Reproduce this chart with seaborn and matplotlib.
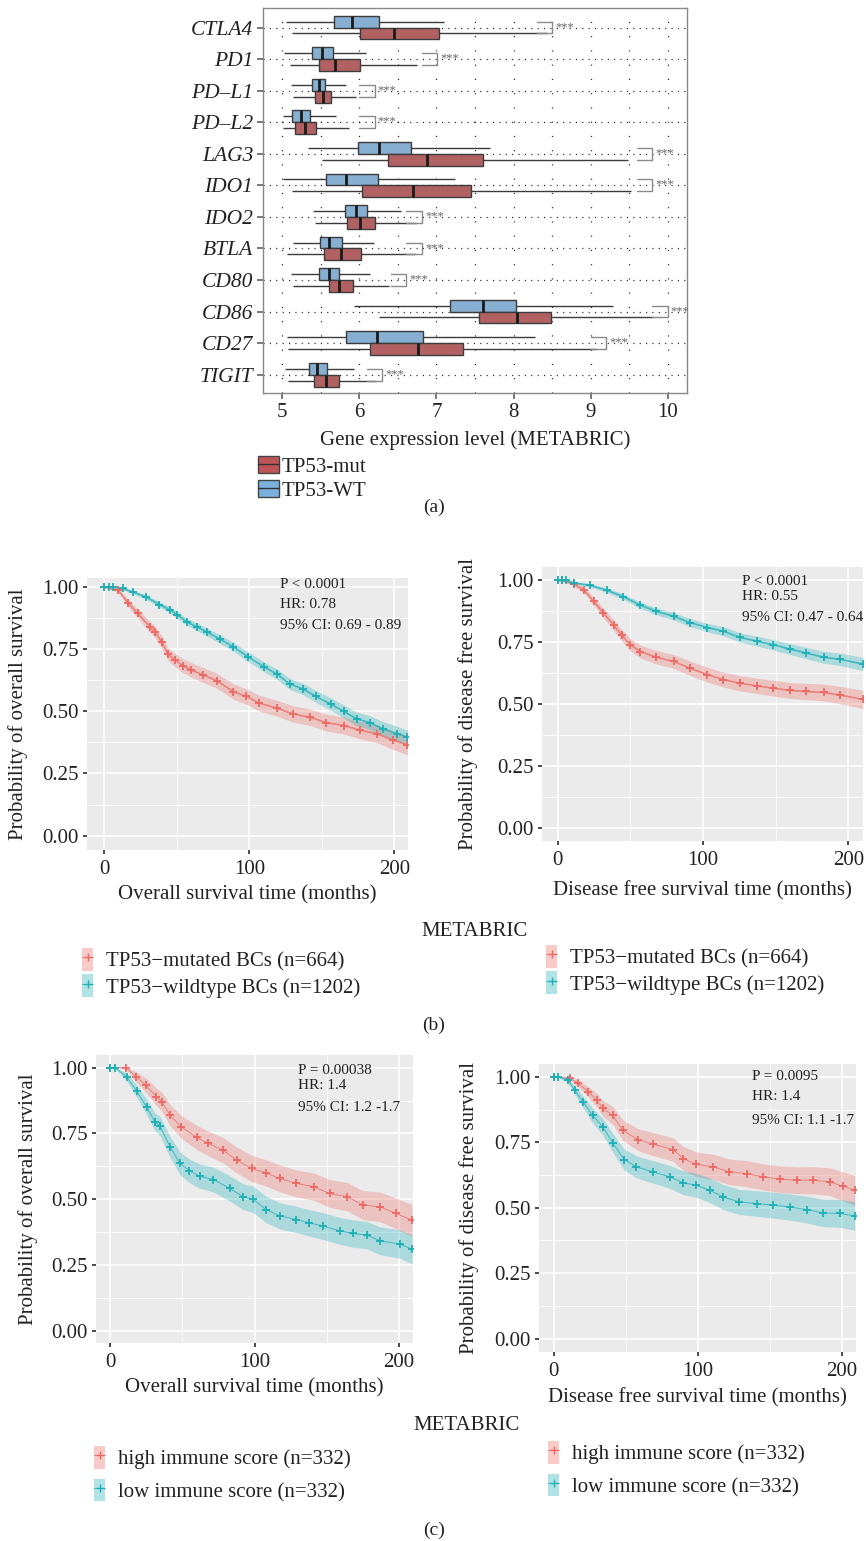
import numpy as np
import pandas as pd
import matplotlib
matplotlib.use("Agg")
import matplotlib.pyplot as plt
import seaborn as sns
from matplotlib.patches import Patch
from matplotlib.lines import Line2D
from matplotlib.ticker import MultipleLocator

# ---------------- data: panel (a) box summaries ----------------
genes = ["CTLA4", "PD1", "PD-L1", "PD-L2", "LAG3", "IDO1", "IDO2", "BTLA", "CD80", "CD86", "CD27", "TIGIT"]
gene_labels = ["CTLA4", "PD1", "PD–L1", "PD–L2", "LAG3", "IDO1", "IDO2", "BTLA", "CD80", "CD86", "CD27", "TIGIT"]
wt_lo  = [5.05, 5.02, 5.11, 5.01, 5.33, 5.01, 5.40, 5.14, 5.11, 5.93, 5.06, 5.04]
wt_q1  = [5.67, 5.38, 5.38, 5.13, 5.98, 5.57, 5.81, 5.49, 5.48, 7.17, 5.83, 5.35]
wt_med = [5.90, 5.51, 5.47, 5.24, 6.26, 5.83, 5.95, 5.60, 5.61, 7.60, 6.23, 5.45]
wt_q3  = [6.25, 5.66, 5.55, 5.36, 6.67, 6.24, 6.10, 5.77, 5.74, 8.03, 6.82, 5.58]
wt_hi  = [7.10, 6.08, 5.83, 5.70, 7.70, 7.24, 6.54, 6.19, 6.14, 9.29, 8.28, 5.93]
mut_lo  = [5.12, 5.10, 5.14, 5.01, 5.51, 5.12, 5.42, 5.06, 5.14, 6.26, 5.07, 5.07]
mut_q1  = [6.01, 5.47, 5.42, 5.16, 6.37, 6.04, 5.84, 5.54, 5.60, 7.55, 6.14, 5.41]
mut_med = [6.45, 5.68, 5.53, 5.29, 6.88, 6.69, 6.01, 5.76, 5.74, 8.04, 6.76, 5.57]
mut_q3  = [7.03, 6.01, 5.63, 5.44, 7.61, 7.45, 6.20, 6.02, 5.92, 8.48, 7.35, 5.74]
mut_hi  = [8.43, 6.75, 5.96, 5.87, 9.48, 9.52, 6.74, 6.72, 6.39, 9.81, 9.07, 6.22]
sig_x   = [8.50, 7.01, 6.20, 6.20, 9.80, 9.80, 6.81, 6.81, 6.61, 10.0, 9.20, 6.30]
sig_text = "***"

# ---------------- data: panel (b) TP53 survival ----------------
os_wt_t = [0, 3, 6, 12.6, 20, 29, 38, 45, 50, 57, 64, 70.6, 80, 89, 99, 110, 119, 128, 137, 146, 156, 165, 174, 183, 192, 202, 209]
os_wt_s = [1.0, 1.0, 1.0, 0.995, 0.98, 0.96, 0.93, 0.91, 0.89, 0.86, 0.84, 0.82, 0.79, 0.76, 0.72, 0.68, 0.65, 0.61, 0.59, 0.56, 0.53, 0.50, 0.47, 0.455, 0.43, 0.41, 0.395]
os_wt_hw = [0, 0.003, 0.004, 0.005, 0.007, 0.009, 0.011, 0.012, 0.013, 0.014, 0.015, 0.016, 0.017, 0.018, 0.019, 0.02, 0.021, 0.022, 0.023, 0.024, 0.025, 0.026, 0.027, 0.028, 0.029, 0.03, 0.03]
os_mut_t = [0, 9.7, 16.6, 23, 31.5, 35, 39.5, 44, 48.7, 54.5, 60, 68, 77.5, 89, 98, 107, 119, 130, 142, 153, 165, 176, 188, 199, 209]
os_mut_s = [1.0, 0.987, 0.935, 0.895, 0.84, 0.82, 0.78, 0.73, 0.707, 0.683, 0.667, 0.647, 0.624, 0.58, 0.56, 0.533, 0.513, 0.49, 0.476, 0.455, 0.443, 0.425, 0.41, 0.385, 0.365]
os_mut_hw = [0, 0.008, 0.015, 0.018, 0.022, 0.023, 0.025, 0.026, 0.027, 0.028, 0.029, 0.03, 0.03, 0.031, 0.031, 0.032, 0.032, 0.033, 0.033, 0.034, 0.034, 0.035, 0.036, 0.038, 0.04]

dfs_wt_t = [0, 3, 6, 11, 22.5, 34, 45, 57, 68, 80, 91, 103, 114, 125.5, 137, 148.5, 160, 171, 183, 194, 210]
dfs_wt_s = [1.0, 1.0, 1.0, 0.99, 0.98, 0.96, 0.935, 0.90, 0.875, 0.855, 0.83, 0.81, 0.795, 0.77, 0.755, 0.74, 0.723, 0.707, 0.69, 0.682, 0.663]
dfs_wt_hw = [0, 0.002, 0.003, 0.005, 0.007, 0.009, 0.011, 0.013, 0.014, 0.015, 0.016, 0.017, 0.018, 0.019, 0.02, 0.021, 0.022, 0.023, 0.024, 0.025, 0.027]
dfs_mut_t = [0, 3, 11, 18, 25, 31.6, 38.5, 44, 50, 57, 68, 80, 91, 103, 114, 125.5, 137, 148.5, 160, 171, 183, 194, 210]
dfs_mut_s = [1.0, 1.0, 0.985, 0.962, 0.915, 0.868, 0.82, 0.78, 0.74, 0.713, 0.69, 0.673, 0.646, 0.62, 0.60, 0.585, 0.575, 0.565, 0.556, 0.552, 0.548, 0.538, 0.52]
dfs_mut_hw = [0, 0.003, 0.008, 0.012, 0.016, 0.019, 0.021, 0.023, 0.025, 0.026, 0.027, 0.028, 0.029, 0.03, 0.03, 0.031, 0.031, 0.032, 0.032, 0.033, 0.034, 0.035, 0.037]

# ---------------- data: panel (c) immune score survival ----------------
osi_hi_t = [0, 11, 18, 24.7, 32, 36, 41.5, 49, 60, 68, 78, 87.7, 98, 108, 117.6, 129, 141, 152, 164, 175, 187, 198, 209]
osi_hi_s = [1.0, 1.0, 0.965, 0.934, 0.89, 0.87, 0.82, 0.776, 0.735, 0.712, 0.687, 0.649, 0.617, 0.60, 0.579, 0.56, 0.548, 0.522, 0.51, 0.478, 0.471, 0.446, 0.42]
osi_hi_hw = [0, 0.005, 0.02, 0.027, 0.033, 0.036, 0.04, 0.043, 0.046, 0.047, 0.048, 0.049, 0.05, 0.05, 0.051, 0.051, 0.052, 0.053, 0.054, 0.055, 0.056, 0.058, 0.06]
osi_lo_t = [0, 3.5, 11.5, 18.5, 25.4, 31, 34.6, 41.5, 48.4, 55, 62, 71.5, 83, 92, 99, 108, 117.6, 129, 138, 147.6, 159, 168, 177.6, 187, 200.7, 209]
osi_lo_s = [1.0, 1.0, 0.965, 0.91, 0.85, 0.795, 0.778, 0.70, 0.636, 0.608, 0.588, 0.575, 0.541, 0.51, 0.50, 0.461, 0.437, 0.423, 0.41, 0.398, 0.38, 0.37, 0.364, 0.342, 0.33, 0.31]
osi_lo_hw = [0, 0.003, 0.015, 0.023, 0.03, 0.034, 0.036, 0.04, 0.043, 0.045, 0.046, 0.047, 0.048, 0.049, 0.05, 0.05, 0.05, 0.05, 0.05, 0.051, 0.051, 0.052, 0.052, 0.053, 0.054, 0.055]

dfsi_hi_t = [0, 11, 17, 24, 30, 34, 41, 48, 58.6, 69, 83, 90, 99, 111, 122, 134, 145.5, 157, 169, 180, 192, 201, 209]
dfsi_hi_s = [1.0, 0.997, 0.975, 0.943, 0.91, 0.88, 0.853, 0.796, 0.76, 0.743, 0.722, 0.688, 0.666, 0.656, 0.637, 0.63, 0.618, 0.609, 0.605, 0.605, 0.599, 0.582, 0.567]
dfsi_hi_hw = [0, 0.005, 0.013, 0.02, 0.026, 0.03, 0.034, 0.039, 0.042, 0.044, 0.045, 0.046, 0.047, 0.048, 0.049, 0.05, 0.05, 0.051, 0.051, 0.052, 0.053, 0.055, 0.057]
dfsi_lo_t = [0, 3, 10, 14.6, 20.4, 27, 34, 41, 49, 57.5, 69, 80.6, 90, 99, 108.5, 117.7, 129, 141, 152.5, 164, 175.7, 187, 199, 209]
dfsi_lo_s = [1.0, 1.0, 0.987, 0.949, 0.904, 0.853, 0.81, 0.748, 0.684, 0.656, 0.637, 0.618, 0.595, 0.586, 0.567, 0.541, 0.522, 0.516, 0.51, 0.503, 0.493, 0.48, 0.478, 0.469]
dfsi_lo_hw = [0, 0.003, 0.01, 0.016, 0.022, 0.028, 0.032, 0.036, 0.04, 0.042, 0.043, 0.044, 0.045, 0.046, 0.047, 0.048, 0.048, 0.049, 0.05, 0.05, 0.051, 0.052, 0.053, 0.055]

tp53_labels = ["TP53−mutated BCs (n=664)", "TP53−wildtype BCs (n=1202)"]
imm_labels = ["high immune score (n=332)", "low immune score (n=332)"]
stats_b_os = ["P < 0.0001", "HR: 0.78", "95% CI: 0.69 - 0.89"]
stats_b_dfs = ["P < 0.0001", "HR: 0.55", "95% CI: 0.47 - 0.64"]
stats_c_os = ["P = 0.00038", "HR: 1.4", "95% CI: 1.2 -1.7"]
stats_c_dfs = ["P = 0.0095", "HR: 1.4", "95% CI: 1.1 -1.7"]

# ---------------- style ----------------
sns.set_theme(style="white")
plt.rcParams["font.family"] = ["Liberation Serif", "DejaVu Serif"]
TXT = "#222222"
RED_KM = "#EC6A63"
TEAL_KM = "#1DB0B6"
BOX_RED = "#BF5456"
BOX_BLUE = "#7AB0DD"

W, H = 866, 1541
fig = plt.figure(figsize=(W / 100, H / 100), dpi=100)


def ax_at(l, t, r, b):
    return fig.add_axes([l / W, 1 - b / H, (r - l) / W, (b - t) / H])


# ---------------- panel (a) ----------------
rows = []
for i, g in enumerate(genes):
    for v in (wt_lo[i], wt_q1[i], wt_med[i], wt_q3[i], wt_hi[i]):
        rows.append((g, "TP53-WT", v))
    for v in (mut_lo[i], mut_q1[i], mut_med[i], mut_q3[i], mut_hi[i]):
        rows.append((g, "TP53-mut", v))
box_df = pd.DataFrame(rows, columns=["gene", "group", "value"])

axA = ax_at(263, 8, 687, 393)
sns.boxplot(data=box_df, x="value", y="gene", hue="group", order=genes,
            hue_order=["TP53-WT", "TP53-mut"],
            palette={"TP53-WT": BOX_BLUE, "TP53-mut": BOX_RED},
            whis=(0, 100), showfliers=False, showcaps=False, width=0.75, gap=0,
            linecolor="#3c3c3c", linewidth=1.0, legend=False,
            medianprops={"color": "#1a1a1a", "linewidth": 2.0}, ax=axA)
axA.set_xlim(4.75, 10.25)
axA.set_ylim(11.58, -0.62)
axA.set_xticks([5, 6, 7, 8, 9, 10])
axA.xaxis.set_minor_locator(MultipleLocator(0.5))
axA.set_yticks(range(len(genes)))
axA.set_yticklabels(gene_labels, fontstyle="italic", fontsize=15.5, color=TXT)
axA.tick_params(axis="x", which="major", labelsize=15, labelcolor=TXT, length=4, color="#666", bottom=True, pad=3)
axA.tick_params(axis="x", which="minor", length=0)
axA.tick_params(axis="y", length=4, color="#666", left=True, pad=3)
axA.grid(True, axis="x", which="both", color="#222", linewidth=0.9, linestyle=(0, (0.9, 10.5)))
axA.grid(True, axis="y", which="major", color="#222", linewidth=0.9, linestyle=(0, (0.9, 4.2)))
axA.set_axisbelow(True)
for s in axA.spines.values():
    s.set_color("#888888")
    s.set_linewidth(1.0)
axA.set_ylabel("")
axA.set_xlabel("Gene expression level (METABRIC)", fontsize=15, color=TXT, labelpad=6)
for i in range(len(genes)):
    y1, y2 = i - 0.1875, i + 0.1875
    x1 = sig_x[i]
    axA.plot([x1 - 0.2, x1, x1, x1 - 0.2], [y1, y1, y2, y2], color="#8a8a8a", lw=1.0, zorder=3)
    axA.text(x1 + 0.04, i - 0.02, sig_text, fontsize=9, color="#666", ha="left", va="center")

legA = fig.legend(handles=[(Patch(facecolor=BOX_RED, edgecolor="#444"), Line2D([], [], color="#333", lw=1)),
                           (Patch(facecolor=BOX_BLUE, edgecolor="#444"), Line2D([], [], color="#333", lw=1))],
                  labels=["TP53-mut", "TP53-WT"], loc="upper left",
                  bbox_to_anchor=(258 / W, 1 - 456 / H), frameon=False, fontsize=15,
                  handlelength=1.0, handleheight=0.9, handletextpad=0.15, labelspacing=0.15,
                  borderpad=0, borderaxespad=0)
for t in legA.get_texts():
    t.set_color(TXT)


# ---------------- KM helper ----------------
def km_panel(ax, curves, xlim, ylim, ylabel, xlabel, stats, stat_xy, ylab_x, line_w, xpad):
    ax.set_facecolor("#EBEBEB")
    for t, s, hw, col in curves:
        t = np.asarray(t, float)
        s = np.asarray(s, float)
        hw = np.asarray(hw, float)
        ax.fill_between(t, s - hw, np.minimum(s + hw, 1.0), color=col, alpha=0.3, lw=0, zorder=2)
        sns.lineplot(x=t, y=s, color=col, lw=line_w, alpha=0.75, errorbar=None, ax=ax, zorder=3)
        sns.scatterplot(x=t, y=s, color=col, marker="+", s=40, linewidth=1.3, ax=ax, zorder=4)
    ax.set_xlim(*xlim)
    ax.set_ylim(*ylim)
    ax.set_xticks([0, 100, 200])
    ax.xaxis.set_minor_locator(MultipleLocator(50))
    ax.set_yticks([0, 0.25, 0.5, 0.75, 1.0])
    ax.set_yticklabels(["0.00", "0.25", "0.50", "0.75", "1.00"])
    ax.yaxis.set_minor_locator(MultipleLocator(0.125))
    ax.grid(True, which="major", color="white", lw=1.1)
    ax.grid(True, which="minor", color="white", lw=0.55)
    ax.set_axisbelow(True)
    for sp in ax.spines.values():
        sp.set_visible(False)
    ax.tick_params(which="major", length=3, color="#333", labelsize=15, labelcolor=TXT,
                   left=True, bottom=True, pad=3)
    ax.tick_params(axis="x", which="major", pad=4)
    ax.tick_params(which="minor", length=0)
    ax.set_ylabel(ylabel, fontsize=15, color=TXT)
    ax.yaxis.set_label_coords(ylab_x, 0.5)
    ax.set_xlabel(xlabel, fontsize=15, color=TXT, labelpad=xpad)
    x0, ys = stat_xy
    for txt, yy in zip(stats, ys):
        ax.text(x0, yy, txt, fontsize=11, color=TXT, ha="left", va="center")


def km_legend(x, y, labels, gap=0.35):
    hs = [(Patch(facecolor=RED_KM, alpha=0.35, lw=0), Line2D([], [], color=RED_KM, marker="+", lw=0.6, markersize=6)),
          (Patch(facecolor=TEAL_KM, alpha=0.35, lw=0), Line2D([], [], color=TEAL_KM, marker="+", lw=0.6, markersize=6))]
    lg = fig.legend(handles=hs, labels=labels, loc="upper left", bbox_to_anchor=(x / W, 1 - y / H),
                    frameon=False, fontsize=15, handlelength=0.55, handleheight=1.3,
                    handletextpad=0.6, labelspacing=gap, borderpad=0, borderaxespad=0)
    for t in lg.get_texts():
        t.set_color(TXT)


# ---------------- panel (b) ----------------
axB1 = ax_at(87, 578, 408, 850)
km_panel(axB1, [(os_mut_t, os_mut_s, os_mut_hw, RED_KM), (os_wt_t, os_wt_s, os_wt_hw, TEAL_KM)],
         (-11.9, 209.4), (-0.058, 1.037), "Probability of overall survival",
         "Overall survival time (months)", stats_b_os, (121, [1.01, 0.93, 0.845]), -0.184, 1.2, 5)
axB2 = ax_at(542, 567, 863, 841)
km_panel(axB2, [(dfs_mut_t, dfs_mut_s, dfs_mut_hw, RED_KM), (dfs_wt_t, dfs_wt_s, dfs_wt_hw, TEAL_KM)],
         (-10.7, 210.1), (-0.051, 1.054), "Probability of disease free survival",
         "Disease free survival time (months)", stats_b_dfs, (127, [0.995, 0.934, 0.85]), -0.2, 1.2, 8)

fig.text(475 / W, 1 - 932 / H, "METABRIC", ha="center", va="center", fontsize=15, color=TXT)
km_legend(82, 948, tp53_labels, gap=0.15)
km_legend(546, 945, tp53_labels, gap=0.15)
fig.text(434 / W, 1 - 1025 / H, "(b)", ha="center", va="center", fontsize=14, color=TXT)

# ---------------- panel (c) ----------------
axC1 = ax_at(96, 1055, 413, 1343)
km_panel(axC1, [(osi_hi_t, osi_hi_s, osi_hi_hw, RED_KM), (osi_lo_t, osi_lo_s, osi_lo_hw, TEAL_KM)],
         (-9.7, 209.7), (-0.046, 1.048), "Probability of overall survival",
         "Overall survival time (months)", stats_c_os, (130, [0.991, 0.934, 0.847]), -0.183, 0.7, 5)
axC2 = ax_at(539, 1064, 856, 1352)
km_panel(axC2, [(dfsi_hi_t, dfsi_hi_s, dfsi_hi_hw, RED_KM), (dfsi_lo_t, dfsi_lo_s, dfsi_lo_hw, TEAL_KM)],
         (-10.2, 210.0), (-0.051, 1.049), "Probability of disease free survival",
         "Disease free survival time (months)", stats_c_dfs, (137.6, [1.0, 0.924, 0.832]), -0.189, 0.7, 5)

fig.text(467 / W, 1 - 1425 / H, "METABRIC", ha="center", va="center", fontsize=15, color=TXT)
km_legend(94, 1446, imm_labels, gap=0.45)
km_legend(548, 1441, imm_labels, gap=0.45)
fig.text(434 / W, 1 - 1530 / H, "(c)", ha="center", va="center", fontsize=14, color=TXT)

fig.text(434 / W, 1 - 507 / H, "(a)", ha="center", va="center", fontsize=14, color=TXT)

fig.savefig("out.png", dpi=100, facecolor="white")
